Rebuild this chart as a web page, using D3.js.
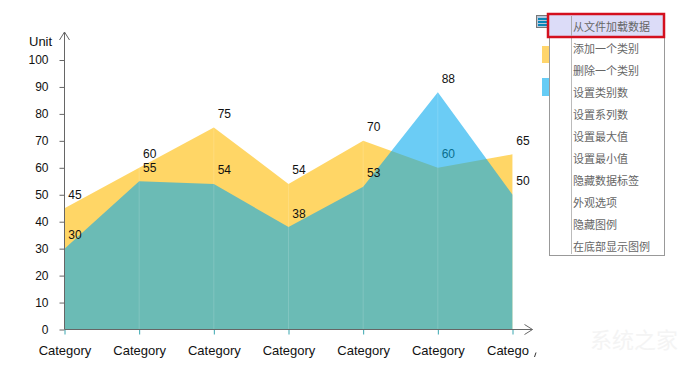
<!DOCTYPE html>
<html>
<head>
<meta charset="utf-8">
<script src="https://cdn.jsdelivr.net/npm/d3@7"></script>
<style>
html, body { margin: 0; padding: 0; background: #fff; }
svg { display: block; }
text { font-family: "Liberation Sans", Arial, sans-serif; font-size: 12px; fill: #111; }
.menu text { font-family: "Noto Sans CJK SC", sans-serif; font-size: 11px; fill: #666; }
</style>
</head>
<body>
<svg id="chart" width="689" height="371"></svg>
<script>
// chart data
const categories = ['Category', 'Category', 'Category', 'Category', 'Category', 'Category', 'Catego'];
const series1 = [45, 60, 75, 54, 70, 60, 65];
const series2 = [30, 55, 54, 38, 53, 88, 50];
const yTicks = [0, 10, 20, 30, 40, 50, 60, 70, 80, 90, 100];
const menuItems = ['从文件加载数据', '添加一个类别', '删除一个类别', '设置类别数', '设置系列数', '设置最大值', '设置最小值', '隐藏数据标签', '外观选项', '隐藏图例', '在底部显示图例'];

const svg = d3.select('#chart');

const x = d3.scalePoint().domain(d3.range(categories.length)).range([64.5, 512.5]);
const y = d3.scaleLinear().domain([0, 100]).range([329.5, 60]);

const area = d3.area()
    .x((d, i) => x(i))
    .y0(y(0))
    .y1(d => y(d));

// Areas
svg.append('path').datum(series1).attr('d', area).attr('fill', '#ffbb00').attr('fill-opacity', 0.6);
svg.append('path').datum(series2).attr('d', area).attr('fill', '#00a7ee').attr('fill-opacity', 0.58);

// Faint vertical lines at each category
svg.selectAll('.drop')
    .data(categories)
    .enter()
    .append('line')
    .attr('x1', (d, i) => x(i))
    .attr('x2', (d, i) => x(i))
    .attr('y1', (d, i) => y(Math.max(series1[i], series2[i])))
    .attr('y2', y(0))
    .attr('stroke', '#fff')
    .attr('stroke-opacity', 0.15);

// Axes
const yAxis = svg.append('g')
    .attr('transform', 'translate(' + x(0) + ',0)')
    .call(d3.axisLeft(y).tickValues(yTicks).tickSize(5).tickPadding(11).tickFormat(d3.format('d')));
yAxis.select('.domain').remove();
yAxis.selectAll('line').attr('stroke', '#666');
yAxis.selectAll('text').style('font-size', '12px').attr('fill', '#111');

const xAxis = svg.append('g')
    .attr('transform', 'translate(0,' + y(0) + ')')
    .call(d3.axisBottom(x).tickSize(5).tickPadding(11).tickFormat(i => categories[i]));
xAxis.select('.domain').remove();
xAxis.selectAll('line').attr('stroke', '#3aa6b0');
xAxis.selectAll('text').style('font-size', '13px').attr('fill', '#111');
// The last label is cut off on the right, so it keeps the left edge of the full word
xAxis.selectAll('text')
    .filter(i => i === categories.length - 1)
    .attr('text-anchor', 'start')
    .attr('x', -26);

// Axis lines with open arrow heads
const arrows = svg.append('g').attr('fill', 'none').attr('stroke', '#666');
arrows.append('path').attr('d', 'M64.5,329.5V32M59.5,40L64.5,32L69.5,40');
arrows.append('path').attr('d', 'M64.5,329.5H532.5M524.5,324.5L532.5,329.5L524.5,334.5');

svg.append('text').attr('x', 29).attr('y', 46).style('font-size', '13px').text('Unit');

// Leftover tail of the clipped last label
svg.append('path').attr('d', 'M536,352.5L534.5,357').attr('stroke', '#333').attr('fill', 'none');

// Data labels
[series1, series2].forEach(s => {
    svg.append('g').selectAll('text')
        .data(s)
        .enter()
        .append('text')
        .attr('x', (d, i) => x(i) + 10.5)
        .attr('y', d => y(d) - 9.5)
        .attr('text-anchor', 'middle')
        .style('fill', (d, i) => (s === series1 && i === 5) ? '#0a6f8f' : '#111')
        .text(d => d);
});

// Legend swatches, mostly behind the menu
svg.append('rect').attr('x', 542).attr('y', 46).attr('width', 10).attr('height', 17).attr('fill', '#ffd56b');
svg.append('rect').attr('x', 542).attr('y', 78).attr('width', 10).attr('height', 18).attr('fill', '#66ccf5');

// Menu button
svg.append('rect').attr('x', 536.5).attr('y', 15.5).attr('width', 14).attr('height', 12).attr('fill', '#b8c8dc').attr('stroke', '#777');
[18, 21, 24].forEach(v => {
    svg.append('rect').attr('x', 538).attr('y', v).attr('width', 11).attr('height', 2).attr('fill', '#0a86b8');
});

// Context menu
const menu = svg.append('g').attr('class', 'menu');
menu.append('rect').attr('x', 549.5).attr('y', 14.5).attr('width', 115).attr('height', 241).attr('fill', '#fff').attr('stroke', '#999');
menu.append('line').attr('x1', 571.5).attr('x2', 571.5).attr('y1', 15).attr('y2', 254).attr('stroke', '#bbb');
menu.append('rect').attr('x', 548).attr('y', 14).attr('width', 116).attr('height', 23).attr('fill', '#dcdcf8').attr('stroke', '#d4101e').attr('stroke-width', 2.5);
menu.append('line').attr('x1', 571.5).attr('x2', 571.5).attr('y1', 16).attr('y2', 36).attr('stroke', '#aaa');
menu.selectAll('.item')
    .data(menuItems)
    .enter()
    .append('text')
    .attr('class', 'item')
    .attr('x', 573)
    .attr('y', (d, i) => 30.5 + i * 22)
    .text(d => d);

// Site watermark
svg.append('text').attr('x', 590).attr('y', 348)
    .style('font-family', '"Noto Sans CJK SC", sans-serif')
    .style('font-size', '22px')
    .style('fill', '#f4f4f4')
    .text('系统之家');
</script>
</body>
</html>
